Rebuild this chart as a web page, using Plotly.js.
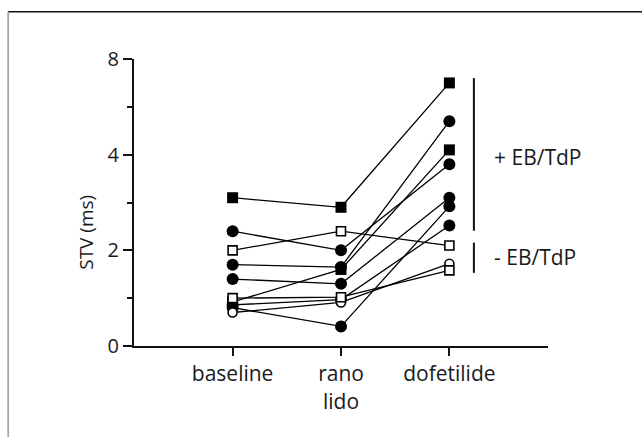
<!DOCTYPE html>
<html>
<head>
<meta charset="utf-8">
<script src="https://cdn.plot.ly/plotly-3.0.1.min.js"></script>
<style>html,body{margin:0;padding:0;background:#fff;}#chart{width:642px;height:437px;}</style>
</head>
<body>
<div id="chart"></div>
<script>
// Categories and tick labels
const categories = ['baseline', 'rano<br>lido', 'dofetilide'];
const yTickValues = [0, 2, 4, 6];
const yTickLabels = ['0', '2', '4', '8'];
const yMinorTicks = [1, 3, 5];

// STV (ms) per animal: [baseline, ranolazine/lidocaine, dofetilide]
const animalA = [3.1, 2.9, 5.5];   // filled square, +EB/TdP
const animalB = [0.92, 1.6, 4.1];  // filled square, +EB/TdP
const animalC = [2.4, 2.0, 3.8];   // filled circle, +EB/TdP
const animalD = [2.0, 2.4, 2.1];   // open square, -EB/TdP
const animalE = [1.7, 1.65, 4.7];  // filled circle, +EB/TdP
const animalF = [1.4, 1.3, 3.1];   // filled circle, +EB/TdP
const animalG = [1.0, 1.02, 1.58]; // open square, -EB/TdP
const animalH = [0.7, 0.91, 1.72]; // open circle, -EB/TdP
const animalI = [0.86, 0.97, 2.52];// filled circle, +EB/TdP
const animalJ = [0.8, 0.41, 2.92]; // filled circle, +EB/TdP

const groupLabels = ['+ EB/TdP', '- EB/TdP'];

const xIdx = categories.map((c, i) => i);

const animals = [
  {v: animalA, sym: 'square', open: false},
  {v: animalB, sym: 'square', open: false},
  {v: animalC, sym: 'circle', open: false},
  {v: animalE, sym: 'circle', open: false},
  {v: animalF, sym: 'circle', open: false},
  {v: animalI, sym: 'circle', open: false},
  {v: animalJ, sym: 'circle', open: false},
  {v: animalH, sym: 'circle', open: true},
  {v: animalD, sym: 'square', open: true},
  {v: animalG, sym: 'square', open: true}
];

const traces = [];
animals.forEach(a => {
  traces.push({
    x: xIdx, y: a.v, type: 'scatter', mode: 'lines',
    line: {color: '#000', width: 1.3}, hoverinfo: 'skip', showlegend: false
  });
});
animals.forEach(a => {
  traces.push({
    x: xIdx, y: a.v, type: 'scatter', mode: 'markers', showlegend: false,
    marker: {
      symbol: a.sym,
      size: a.open ? 9 : (a.sym === 'square' ? 11 : 12),
      color: a.open ? '#fff' : '#000',
      line: {color: '#000', width: a.open ? 1.6 : 0}
    }
  });
});

const font = {family: '"Open Sans", "Noto Sans", sans-serif', color: '#1a1a1a'};

const layout = {
  width: 642, height: 437,
  margin: {l: 134, r: 94, t: 59, b: 91},
  paper_bgcolor: '#fff', plot_bgcolor: '#fff',
  showlegend: false,
  font: Object.assign({size: 16}, font),
  xaxis: {
    range: [-0.91, 2.91], tickmode: 'array', tickvals: xIdx, ticktext: categories,
    showline: true, linecolor: '#111', linewidth: 2, ticks: 'outside', ticklen: 8, tickwidth: 2,
    tickcolor: '#111', showgrid: false, zeroline: false, fixedrange: true,
    tickfont: Object.assign({size: 21}, font)
  },
  yaxis: {
    range: [0, 6], tickmode: 'array', tickvals: yTickValues, ticktext: yTickLabels,
    showline: true, linecolor: '#111', linewidth: 2, ticks: 'outside', ticklen: 9, tickwidth: 2,
    tickcolor: '#111', showgrid: false, zeroline: false, fixedrange: true,
    tickfont: Object.assign({size: 20}, font),
    minor: {tickmode: 'array', tickvals: yMinorTicks, ticks: 'outside', ticklen: 5, tickwidth: 2, tickcolor: '#111', showgrid: false}
  },
  shapes: [
    {type: 'line', xref: 'paper', yref: 'paper', x0: -0.304, x1: 1.23, y0: 1.165, y1: 1.165, line: {color: '#111', width: 1.5}},
    {type: 'line', xref: 'paper', yref: 'paper', x0: -0.304, x1: -0.304, y0: 1.165, y1: -0.35, line: {color: '#999', width: 1.5}},
    {type: 'line', xref: 'paper', yref: 'y', x0: 0.821, x1: 0.821, y0: 5.6, y1: 2.41, line: {color: '#111', width: 2}},
    {type: 'line', xref: 'paper', yref: 'y', x0: 0.821, x1: 0.821, y0: 2.16, y1: 1.53, line: {color: '#111', width: 2}}
  ],
  annotations: [
    {text: 'STV (ms)', textangle: -90, xref: 'paper', yref: 'y', x: -0.118, y: 2.37, showarrow: false,
     xanchor: 'center', yanchor: 'middle', font: Object.assign({size: 19}, font)},
    {text: groupLabels[0], xref: 'paper', yref: 'y', x: 0.865, y: 3.95, showarrow: false,
     xanchor: 'left', yanchor: 'middle', font: Object.assign({size: 21}, font)},
    {text: groupLabels[1], xref: 'paper', yref: 'y', x: 0.865, y: 1.87, showarrow: false,
     xanchor: 'left', yanchor: 'middle', font: Object.assign({size: 21}, font)}
  ]
};

Plotly.newPlot('chart', traces, layout, {displayModeBar: false, staticPlot: true});
</script>
</body>
</html>
